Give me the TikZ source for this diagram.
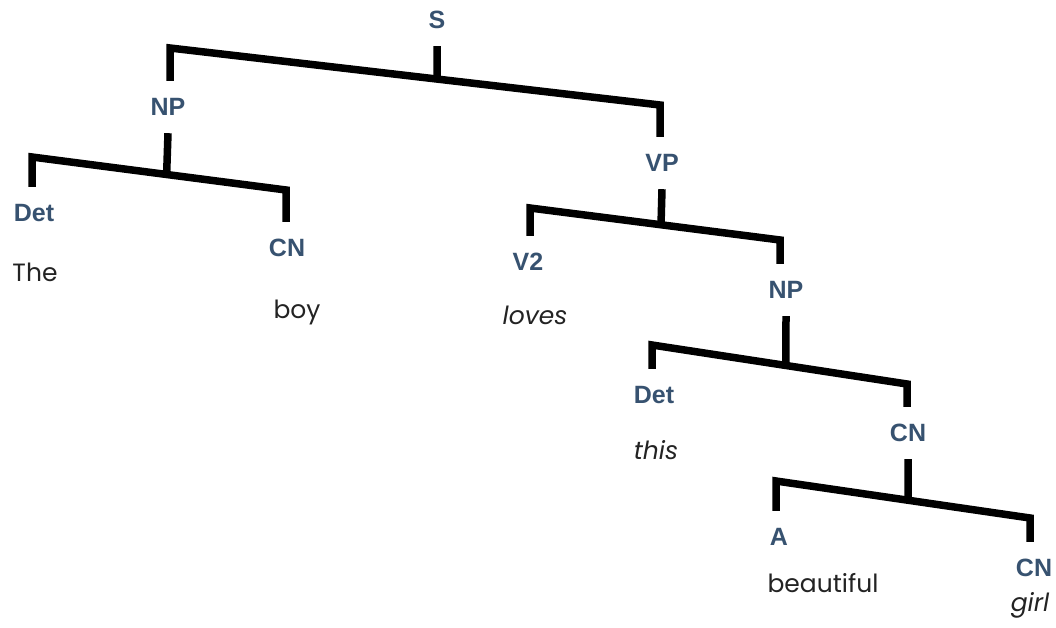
\documentclass[tikz,border=0pt]{standalone}
\usetikzlibrary{calc}
\usepackage{fontspec}
\setmainfont{Poppins}
\newfontfamily\catfont{Liberation Sans}
\definecolor{catblue}{RGB}{55,82,112}
\definecolor{wordgray}{RGB}{35,35,35}
\begin{document}
\begin{tikzpicture}[x=1pt,y=-1pt,
  cat/.style={font=\catfont\bfseries\fontsize{25}{28}\selectfont, text=catblue, inner sep=0pt, minimum height=52pt},
  word/.style={font=\fontsize{25}{28}\selectfont, text=wordgray, inner sep=0pt},
  iword/.style={word, font=\fontsize{25}{28}\selectfont\itshape},
  branch/.style={line width=7.5pt, black, line join=miter}]
\fill[white] (0,0) rectangle (1056,628);
\useasboundingbox (0,0) rectangle (1056,628);

% category labels
\node[cat] (S)   at (437,20)  {S};
\node[cat] (NPa) at (168,107) {NP};
\node[cat] (VP)  at (662,163) {VP};
\node[cat] (Deta) at (34,213) {Det};
\node[cat] (CNa) at (287,248) {CN};
\node[cat] (V2)  at (528,262) {V2};
\node[cat] (NPb) at (786,290) {NP};
\node[cat] (Detb) at (654,395) {Det};
\node[cat] (CNb) at (908,433) {CN};
\node[cat] (A)   at (779,537) {A};
\node[cat] (CNc) at (1034,568) {CN};

% words
\node[word]  (wThe)  at (35,272)  {The};
\node[word]  (wboy)  at (297,312) {boy};
\node[iword] (wloves) at (535,315) {loves};
\node[iword] (wthis) at (656,450) {this};
\node[word]  (wbeau) at (823,583) {beautiful};
\node[iword] (wgirl) at (1030,605) {girl};

% bar corners
\coordinate (s1) at (170,48);  \coordinate (s2) at (660,105);
\coordinate (n1) at (32,157);  \coordinate (n2) at (286,190);
\coordinate (v1) at (530,208); \coordinate (v2) at (780,240);
\coordinate (m1) at (652,345); \coordinate (m2) at (907,384);
\coordinate (c1) at (776,481); \coordinate (c2) at (1030,518);

% S
\draw[branch] (S.south) -- ($(s1)!0.545!(s2)$);
\draw[branch] (s1 |- NPa.north) -- (s1) -- (s2) -- (s2 |- VP.north);
% NP (subject)
\draw[branch] (NPa.south) -- ($(n1)!0.53!(n2)$);
\draw[branch] (n1 |- Deta.north) -- (n1) -- (n2) -- (n2 |- CNa.north);
% VP
\draw[branch] (VP.south) -- ($(v1)!0.524!(v2)$);
\draw[branch] (v1 |- V2.north) -- (v1) -- (v2) -- (v2 |- NPb.north);
% NP (object)
\draw[branch] (NPb.south) -- ($(m1)!0.525!(m2)$);
\draw[branch] (m1 |- Detb.north) -- (m1) -- (m2) -- (m2 |- CNb.north);
% CN
\draw[branch] (CNb.south) -- ($(c1)!0.52!(c2)$);
\draw[branch] (c1 |- A.north) -- (c1) -- (c2) -- (c2 |- CNc.north);
\end{tikzpicture}
\end{document}
